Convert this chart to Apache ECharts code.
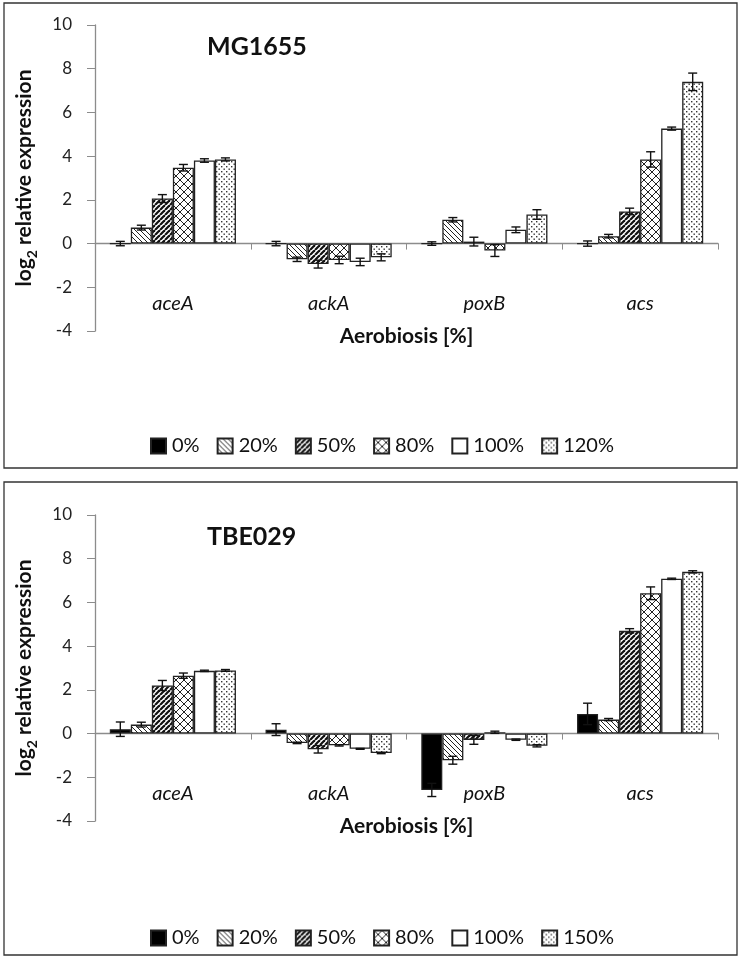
<!DOCTYPE html>
<html><head><meta charset="utf-8">
<script src="https://cdn.jsdelivr.net/npm/echarts@6/dist/echarts.min.js"></script>
<style>html,body{margin:0;padding:0;background:#fff}#c{width:742px;height:973px}</style>
</head><body><div id="c"></div>
<script>
const categories = ['aceA', 'ackA', 'poxB', 'acs'];
const yTicks = [-4, -2, 0, 2, 4, 6, 8, 10];
const mgLevels = ['0%', '20%', '50%', '80%', '100%', '120%'];
const tbLevels = ['0%', '20%', '50%', '80%', '100%', '150%'];

// MG1655: values per level across genes, and error (±)
const mg0 = [0, 0, 0, 0];
const mg20 = [0.73, -0.72, 1.09, 0.34];
const mg50 = [2.06, -0.94, 0.09, 1.47];
const mg80 = [3.47, -0.75, -0.32, 3.85];
const mg100 = [3.8, -0.84, 0.63, 5.26];
const mg120 = [3.85, -0.63, 1.33, 7.4];
const mgErr0 = [0.1, 0.1, 0.08, 0.12];
const mgErr20 = [0.11, 0.1, 0.1, 0.08];
const mgErr50 = [0.18, 0.18, 0.2, 0.15];
const mgErr80 = [0.15, 0.17, 0.27, 0.35];
const mgErr100 = [0.08, 0.17, 0.13, 0.07];
const mgErr120 = [0.07, 0.16, 0.22, 0.4];

// TBE029
const tb0 = [0.2, 0.18, -2.58, 0.9];
const tb20 = [0.41, -0.43, -1.22, 0.64];
const tb50 = [2.2, -0.72, -0.29, 4.7];
const tb80 = [2.65, -0.54, 0.06, 6.42];
const tb100 = [2.87, -0.7, -0.28, 7.08];
const tb150 = [2.89, -0.89, -0.56, 7.4];
const tbErr0 = [0.33, 0.27, 0.3, 0.49];
const tbErr20 = [0.11, 0.03, 0.18, 0.05];
const tbErr50 = [0.23, 0.17, 0.2, 0.1];
const tbErr80 = [0.12, 0.03, 0.05, 0.29];
const tbErr100 = [0.03, 0.02, 0.03, 0.03];
const tbErr150 = [0.04, 0.03, 0.05, 0.05];

const FONT = 'Lato';
const GAP = 0.19;

function makePattern(kind) {
  const c = document.createElement('canvas');
  let s = 6;
  if (kind === 'bdiag') s = 5;
  if (kind === 'fdiag') s = 5;
  if (kind === 'cross') s = 8;
  if (kind === 'dots') s = 5;
  c.width = s; c.height = s;
  const g = c.getContext('2d');
  g.fillStyle = '#fff'; g.fillRect(0, 0, s, s);
  g.strokeStyle = '#222';
  if (kind === 'bdiag') {
    g.lineWidth = 1;
    for (let k = -1; k <= 1; k++) { g.beginPath(); g.moveTo(k * s, 0); g.lineTo(k * s + s, s); g.stroke(); }
  } else if (kind === 'fdiag') {
    g.lineWidth = 2.2; g.strokeStyle = '#111';
    for (let k = -1; k <= 1; k++) { g.beginPath(); g.moveTo(k * s, s); g.lineTo(k * s + s, 0); g.stroke(); }
  } else if (kind === 'cross') {
    g.lineWidth = 1;
    for (let k = -1; k <= 1; k++) {
      g.beginPath(); g.moveTo(k * s, 0); g.lineTo(k * s + s, s); g.stroke();
      g.beginPath(); g.moveTo(k * s, s); g.lineTo(k * s + s, 0); g.stroke();
    }
  } else if (kind === 'dots') {
    g.fillStyle = '#333';
    g.fillRect(1, 1, 1.4, 1.4);
    g.fillRect(3.5, 3.5, 1.4, 1.4);
  }
  return { image: c, repeat: 'repeat' };
}
const fills = ['#000', makePattern('bdiag'), makePattern('fdiag'), makePattern('cross'), '#fff', makePattern('dots')];

function errRenderer(nSeries) {
  return function (params, api) {
    const cat = api.value(0), si = api.value(1), lo = api.value(2), hi = api.value(3);
    const catW = api.size([1, 0])[0];
    const groupW = catW * (1 - GAP);
    const barW = groupW / nSeries;
    const off = -groupW / 2 + barW * (si + 0.5);
    const pHi = api.coord([cat, hi]);
    const pLo = api.coord([cat, lo]);
    const x = pHi[0] + off;
    const cap = 4.5;
    const st = { stroke: '#111', lineWidth: 1.4 };
    return {
      type: 'group',
      children: [
        { type: 'line', shape: { x1: x, y1: pHi[1], x2: x, y2: pLo[1] }, style: st },
        { type: 'line', shape: { x1: x - cap, y1: pHi[1], x2: x + cap, y2: pHi[1] }, style: st },
        { type: 'line', shape: { x1: x - cap, y1: pLo[1], x2: x + cap, y2: pLo[1] }, style: st }
      ]
    };
  };
}

function buildPanel(idx, levels, vals, errs, top) {
  const gridTop = top + 22;
  const xA = idx * 2;
  const series = levels.map((lv, i) => ({
    name: lv, type: 'bar', xAxisIndex: xA, yAxisIndex: idx,
    barGap: '0%', barCategoryGap: (GAP * 100) + '%',
    itemStyle: { color: fills[i], borderColor: '#222', borderWidth: 1.3 },
    emphasis: { disabled: true },
    data: vals[i]
  }));
  const errData = [];
  levels.forEach((lv, i) => {
    vals[i].forEach((v, c) => { errData.push([c, i, v - errs[i][c], v + errs[i][c]]); });
  });
  series.push({
    type: 'custom', xAxisIndex: xA, yAxisIndex: idx, z: 5,
    renderItem: errRenderer(levels.length),
    encode: { x: 0, y: [2, 3] },
    data: errData, silent: true
  });
  return {
    grid: { left: 95, right: 24, top: gridTop, height: 306 },
    xAxes: [
      {
        type: 'category', gridIndex: idx, data: categories,
        axisLine: { onZero: true, lineStyle: { color: '#8c8c8c', width: 1.3 } },
        axisTick: { show: true, length: 6, lineStyle: { color: '#8c8c8c' } },
        axisLabel: { show: false }
      },
      {
        type: 'category', gridIndex: idx, data: categories, position: 'bottom', offset: -40,
        axisLine: { show: false }, axisTick: { show: false },
        axisLabel: { margin: 3, fontFamily: FONT, fontStyle: 'italic', fontSize: 20, color: '#111' },
        name: 'Aerobiosis [%]', nameLocation: 'middle', nameGap: 35,
        nameTextStyle: { fontFamily: FONT, fontWeight: 'bold', fontSize: 21, color: '#111' }
      }
    ],
    yAxis: {
      type: 'value', gridIndex: idx, min: yTicks[0], max: yTicks[yTicks.length - 1], interval: 2,
      splitLine: { show: false },
      axisLine: { show: true, lineStyle: { color: '#8c8c8c', width: 1.3 } },
      axisTick: { show: true, length: 8, lineStyle: { color: '#8c8c8c' } },
      axisLabel: { margin: 23, fontFamily: FONT, fontSize: 17, color: '#222' },
      name: '{a|log}{s|2}{a| relative expression}', nameLocation: 'middle', nameGap: 56, nameRotate: 90,
      nameTextStyle: {
        rich: {
          a: { fontFamily: FONT, fontWeight: 'bold', fontSize: 21, color: '#111', lineHeight: 30, verticalAlign: 'middle' },
          s: { fontFamily: FONT, fontWeight: 'bold', fontSize: 14, color: '#111', lineHeight: 30, verticalAlign: 'bottom', padding: [12, 0, 0, 0] }
        }
      }
    },
    series
  };
}

const mgVals = [mg0, mg20, mg50, mg80, mg100, mg120];
const mgErrs = [mgErr0, mgErr20, mgErr50, mgErr80, mgErr100, mgErr120];
const tbVals = [tb0, tb20, tb50, tb80, tb100, tb150];
const tbErrs = [tbErr0, tbErr20, tbErr50, tbErr80, tbErr100, tbErr150];

const p0 = buildPanel(0, mgLevels, mgVals, mgErrs, 3);
const p1 = buildPanel(1, tbLevels, tbVals, tbErrs, 493);

const legendStyle = (lv, topY) => ({
  data: lv, left: 145, top: topY, itemWidth: 15, itemHeight: 15, itemGap: 17,
  icon: 'rect', selectedMode: false,
  textStyle: { fontFamily: FONT, fontSize: 20, color: '#111', padding: [0, 0, 0, 1] }
});

const option = {
  animation: false,
  backgroundColor: '#fff',
  title: [
    { text: 'MG1655', left: 202, top: 29, textStyle: { fontFamily: FONT, fontWeight: 'bold', fontSize: 25, color: '#111' } },
    { text: 'TBE029', left: 202, top: 519, textStyle: { fontFamily: FONT, fontWeight: 'bold', fontSize: 25, color: '#111' } }
  ],
  legend: [legendStyle(mgLevels, 431), legendStyle(tbLevels, 923)],
  grid: [p0.grid, p1.grid],
  xAxis: [...p0.xAxes, ...p1.xAxes],
  yAxis: [p0.yAxis, p1.yAxis],
  series: [...p0.series, ...p1.series],
  graphic: [
    { type: 'rect', shape: { x: 4, y: 3, width: 733, height: 465 }, style: { fill: 'none', stroke: '#333', lineWidth: 1.3 }, silent: true },
    { type: 'rect', shape: { x: 4, y: 482, width: 733, height: 473 }, style: { fill: 'none', stroke: '#333', lineWidth: 1.3 }, silent: true }
  ]
};
const chart = echarts.init(document.getElementById('c'), null, { renderer: 'canvas' });
chart.setOption(option);
</script>
</body></html>
